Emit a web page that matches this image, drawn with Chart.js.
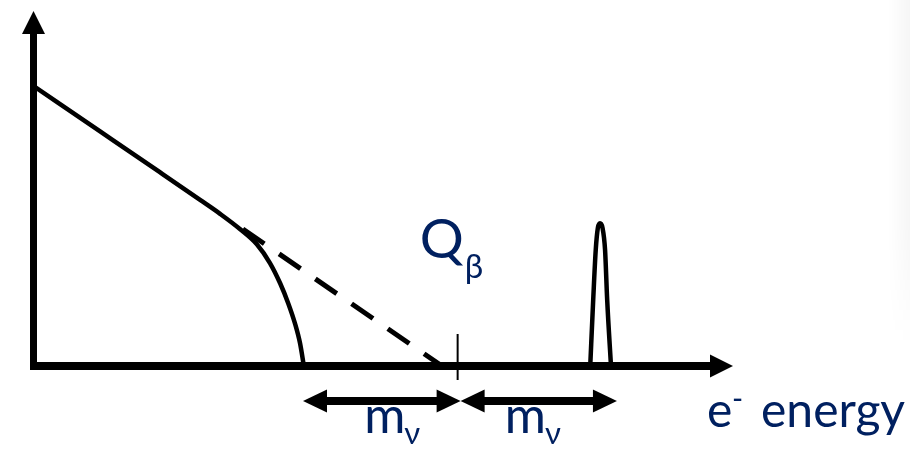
<!DOCTYPE html>
<html>
<head>
<meta charset="utf-8">
<script src="https://cdn.jsdelivr.net/npm/chart.js@4.4.1/dist/chart.umd.min.js"></script>
<style>
	html, body { margin: 0; padding: 0; background: #ffffff; }
	#wrap { position: relative; width: 910px; height: 451px; }
</style>
</head>
<body>
<div id="wrap"><canvas id="canvasbetaspectrum"></canvas></div>
<script>

// energy axis in arbitrary units, Q value at 100
var qValue = 100;
var xMax = 165;
var yMax = 100;

// measured spectrum with a massive neutrino
var spectrumE = [0, 15.6, 29.7, 39.2, 44.0, 48.6, 52.6, 55.7, 58.1, 60.0, 61.6, 62.8, 63.7];
var spectrumN = [78.8, 66.1, 54.6, 46.8, 42.8, 38.6, 34.3, 29.0, 23.3, 17.7, 12.0, 6.4, 0];

// massless continuation of the straight part
var masslessE = [49.3, 96.3];
var masslessN = [38.6, 0];

// narrow line above the endpoint
var peakE = [131.3, 132.0, 132.6, 133.1, 133.6, 134.2, 134.8, 135.3, 136.2];
var peakN = [0, 18.6, 32.7, 38.9, 40.2, 38.9, 32.7, 18.6, 0];

// the two m_v spans under the axis
var spanStart = [63.5, 100.7];
var spanEnd = [100.7, 137.6];
var spanLabel = ["m", "m"];

var textColor = "#002060";

function toPoints(xs, ys){
	var pts = [];
	for (var i = 0; i < xs.length; i++){
		pts.push({ x: xs[i], y: ys[i] });
	}
	return pts;
}

function arrowHead(ctx, tipX, tipY, dir, len, half){
	ctx.beginPath();
	ctx.moveTo(tipX, tipY);
	ctx.lineTo(tipX - dir * len, tipY - half);
	ctx.lineTo(tipX - dir * len, tipY + half);
	ctx.closePath();
	ctx.fill();
}

var sketchAxes = {
	id: 'sketchAxes',
	beforeDraw: function(chart){
		var ctx = chart.ctx;
		// faint shade at the right border, fading out downwards
		var g = ctx.createLinearGradient(888, 0, 910, 0);
		g.addColorStop(0, "rgba(0,0,0,0)");
		g.addColorStop(1, "rgba(0,0,0,0.035)");
		ctx.save();
		ctx.fillStyle = g;
		for (var y = 0; y < 340; y += 10){
			ctx.globalAlpha = y < 220 ? 1 : (340 - y) / 120;
			ctx.fillRect(888, y, 22, 10);
		}
		ctx.restore();
	},
	afterDatasetsDraw: function(chart){
		var ctx = chart.ctx;
		var xs = chart.scales.x;
		var ys = chart.scales.y;
		var x0 = xs.getPixelForValue(0) - 0.5;
		var y0 = ys.getPixelForValue(0);
		var top = chart.chartArea.top;
		var right = chart.chartArea.right;

		ctx.save();
		ctx.fillStyle = "#000000";
		ctx.strokeStyle = "#000000";

		// vertical axis
		ctx.lineWidth = 7;
		ctx.beginPath();
		ctx.moveTo(x0, y0 + 4);
		ctx.lineTo(x0, top + 22);
		ctx.stroke();
		ctx.beginPath();
		ctx.moveTo(x0, top);
		ctx.lineTo(x0 - 11.5, top + 23);
		ctx.lineTo(x0 + 11.5, top + 23);
		ctx.closePath();
		ctx.fill();

		// energy axis
		ctx.lineWidth = 8;
		ctx.beginPath();
		ctx.moveTo(x0 - 3.5, y0);
		ctx.lineTo(right - 22, y0);
		ctx.stroke();
		arrowHead(ctx, right, y0, 1, 23, 11.5);

		// Q tick
		var xq = xs.getPixelForValue(qValue);
		ctx.lineWidth = 2;
		ctx.beginPath();
		ctx.moveTo(xq, y0 - 32);
		ctx.lineTo(xq, y0 + 14);
		ctx.stroke();

		// double arrows with their m_v labels
		var ya = y0 + 35;
		var labelAt = [78.4, 111.6];
		for (var i = 0; i < spanStart.length; i++){
			var a = xs.getPixelForValue(spanStart[i]);
			var b = xs.getPixelForValue(spanEnd[i]);
			ctx.fillStyle = "#000000";
			ctx.lineWidth = 8;
			ctx.beginPath();
			ctx.moveTo(a + 20, ya);
			ctx.lineTo(b - 20, ya);
			ctx.stroke();
			arrowHead(ctx, a, ya, -1, 24, 11.5);
			arrowHead(ctx, b, ya, 1, 24, 11.5);

			ctx.fillStyle = textColor;
			ctx.textBaseline = "alphabetic";
			ctx.textAlign = "left";
			ctx.font = "50px Lato";
			var mx = xs.getPixelForValue(labelAt[i]) - 2;
			ctx.fillText(spanLabel[i], mx, y0 + 67);
			var mw = ctx.measureText(spanLabel[i]).width;
			ctx.font = "31px Lato";
			ctx.fillText("\u03bd", mx + mw - 1, y0 + 78);
		}

		// labels
		ctx.fillStyle = textColor;
		ctx.textAlign = "left";
		ctx.font = "55px Lato";
		ctx.fillText("Q", xq - 38, y0 - 108);
		var qw = ctx.measureText("Q").width;
		ctx.font = "33px Lato";
		ctx.fillText("\u03b2", xq - 38 + qw + 1, y0 - 88);

		ctx.font = "48px Lato";
		ctx.fillText("e", right - 26, y0 + 61);
		ctx.font = "30px Lato";
		ctx.fillText("-", right - 1, y0 + 43);
		ctx.font = "48px Lato";
		ctx.fillText("energy", right + 28, y0 + 61);

		ctx.restore();
	}
};

function init_chart_betaspectrum(){

	if( typeof (Chart) === 'undefined'){ return; }

	var chart_settings = {
		type: 'line',
		data: {
			datasets: [{
				label: "spectrum",
				data: toPoints(spectrumE, spectrumN),
				borderColor: "#000000",
				borderWidth: 4.5,
				pointRadius: 0,
				cubicInterpolationMode: 'monotone',
				fill: false
			}, {
				label: "massless",
				data: toPoints(masslessE, masslessN),
				borderColor: "#000000",
				borderWidth: 5,
				borderDash: [26, 18],
				pointRadius: 0,
				fill: false
			}, {
				label: "peak",
				data: toPoints(peakE, peakN),
				borderColor: "#000000",
				borderWidth: 4.5,
				pointRadius: 0,
				cubicInterpolationMode: 'monotone',
				fill: false
			}]
		},
		options: {
			responsive: true,
			maintainAspectRatio: false,
			animation: false,
			layout: { padding: { left: 34, right: 177, top: 11, bottom: 85 } },
			plugins: { legend: { display: false }, tooltip: { enabled: false } },
			scales: {
				x: { type: 'linear', min: 0, max: xMax, display: false },
				y: { type: 'linear', min: 0, max: yMax, display: false }
			}
		},
		plugins: [sketchAxes]
	};

	new Chart(document.getElementById('canvasbetaspectrum'), chart_settings);
}

init_chart_betaspectrum();

</script>
</body>
</html>
